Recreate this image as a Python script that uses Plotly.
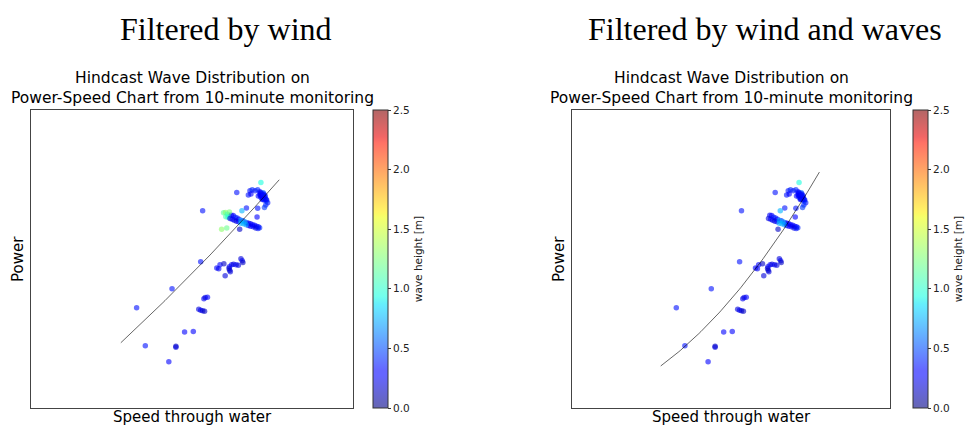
import numpy as np
import plotly.graph_objects as go

# ---- data (arbitrary normalised units; the source chart shows no tick values) ----
speed = [3.28, 3.55, 4.28, 4.50, 4.50, 4.77, 5.04, 4.38, 5.27, 5.33,
         5.21, 5.27, 5.33, 5.39, 5.37, 5.41, 5.48,
         5.77, 5.83, 5.87, 5.99, 6.03, 6.16, 6.15, 6.17, 6.19, 6.23, 6.29, 6.37, 6.44, 6.52, 6.56, 6.58,
         5.92, 6.08, 6.48, 6.69, 6.39, 7.02, 7.04,
         5.98, 6.04, 6.10, 6.16, 6.22, 6.28, 6.34, 6.40, 6.46, 6.58, 6.70, 6.76, 6.82, 6.88, 6.94, 7.00, 7.06, 7.10,
         6.05, 6.12, 6.18, 6.25, 6.31, 6.38, 6.45, 6.75, 6.82, 6.90, 6.98, 7.05, 6.16,
         6.52, 6.64, 6.60, 6.68, 6.55, 6.52,
         6.80, 6.87, 6.96, 7.04, 7.11, 7.16, 7.21, 7.27, 7.32, 7.35, 7.29, 7.25, 6.75, 6.83, 7.06, 7.14, 7.18, 7.11, 7.21,
         7.15, 7.20, 7.24, 7.13, 7.19, 7.26, 7.30,
         7.17, 7.22, 7.19, 7.24, 7.12, 7.27, 7.23, 7.30,
         7.14]
power = [3.36, 2.09, 1.55, 2.07, 2.04, 2.55, 2.57, 4.00, 4.91, 6.62,
         3.31, 3.28, 3.26, 3.25, 3.67, 3.71, 3.72,
         4.70, 4.67, 4.81, 4.84, 4.44, 4.74, 4.68, 4.62, 4.57, 4.81, 4.82, 4.81, 4.79, 5.01, 4.94, 4.88,
         6.00, 6.04, 6.00, 6.71, 7.23, 6.41, 6.70,
         6.55, 6.56, 6.50, 6.48, 6.47, 6.46, 6.40, 6.38, 6.33, 6.28, 6.22, 6.20, 6.18, 6.15, 6.13, 6.10, 6.08, 6.05,
         6.42, 6.40, 6.36, 6.33, 6.30, 6.27, 6.25, 6.12, 6.10, 6.08, 6.04, 6.02, 6.58,
         6.30, 6.25, 6.18, 6.15, 6.62, 6.20,
         7.29, 7.32, 7.29, 7.32, 7.26, 7.20, 7.15, 7.07, 6.98, 6.89, 6.81, 6.73, 7.15, 7.18, 7.11, 7.07, 7.00, 7.18, 7.22,
         7.12, 7.16, 7.10, 7.22, 7.05, 7.02, 6.95,
         7.12, 7.08, 7.02, 6.98, 7.14, 7.12, 7.18, 7.00,
         7.57]
wave_height = [0.35, 0.35, 0.30, 0.15, 0.20, 0.30, 0.30, 0.35, 0.35, 0.35,
               0.20, 0.25, 0.20, 0.15, 0.25, 0.20, 0.30,
               0.30, 0.25, 0.30, 0.15, 0.20, 0.25, 0.20, 0.15, 0.20, 0.30, 0.20, 0.25, 0.20, 0.20, 0.25, 0.15,
               1.30, 1.20, 0.15, 0.35, 0.35, 0.30, 0.35,
               1.15, 1.30, 1.05, 1.10, 0.25, 0.30, 0.35, 0.40, 0.30, 0.30, 0.30, 0.30, 0.25, 0.30, 0.30, 0.25, 0.30, 0.40,
               1.10, 1.00, 0.20, 0.30, 0.25, 0.20, 0.30, 0.30, 0.25, 0.30, 0.20, 0.35, 1.25,
               0.70, 0.70, 0.75, 0.70, 0.75, 0.75,
               0.35, 0.40, 0.35, 0.40, 0.30, 0.35, 0.40, 0.45, 0.40, 0.35, 0.40, 0.45, 0.35, 0.30, 0.30, 0.35, 0.30, 0.35, 0.55,
               0.30, 0.35, 0.55, 0.30, 0.40, 0.50, 0.45,
               0.30, 0.25, 0.30, 0.35, 0.30, 0.30, 0.35, 0.30,
               0.95]
wave_limit = 1.0  # second panel keeps only wave heights below this

# fitted power-speed curves: power = c0 + c1*(v - v0) + c2*(v - v0)^2
fit_v0 = 2.79
fit_wind = [2.19, 1.00, 0.0227]
fit_wind_span = [2.79, 7.71]
fit_waves = [1.41, 0.78, 0.105]
fit_waves_span = [2.79, 7.78]

panel_titles = ["Filtered by wind", "Filtered by wind and waves"]
subtitle = "Hindcast Wave Distribution on<br>Power-Speed Chart from 10-minute monitoring"
cbar_ticks = [0.0, 0.5, 1.0, 1.5, 2.0, 2.5]

# ---- jet colormap with alpha ----
def jet(t):
    r = np.interp(t, [0, 0.35, 0.66, 0.89, 1], [0, 0, 1, 1, 0.5])
    g = np.interp(t, [0, 0.125, 0.375, 0.64, 0.91, 1], [0, 0, 1, 1, 0, 0])
    b = np.interp(t, [0, 0.11, 0.34, 0.65, 1], [0.5, 1, 1, 0, 0])
    return r, g, b

stops = sorted(set([0, 0.11, 0.125, 0.34, 0.35, 0.375, 0.64, 0.65, 0.66, 0.89, 0.91, 1.0]))
jet_alpha = []
for s in stops:
    r, g, b = jet(s)
    jet_alpha.append([s, f"rgba({int(round(r*255))},{int(round(g*255))},{int(round(b*255))},0.6)"])

W, H = 968, 426
def px(x):
    return x / W
def py(y):
    return (H - y) / H

sp = np.array(speed)
pw = np.array(power)
hs = np.array(wave_height)
mask = hs < wave_limit

panels = [
    dict(x=sp, y=pw, c=hs, fit=fit_wind, span=fit_wind_span,
         box=(31, 353), cbx=373, title_x=226, sub_x=192, power_x=18),
    dict(x=sp[mask], y=pw[mask], c=hs[mask], fit=fit_waves, span=fit_waves_span,
         box=(572, 890), cbx=913, title_x=765, sub_x=731.5, power_x=559),
]

box_top, box_bot = 110, 408

fig = go.Figure()
annotations = []
for i, p in enumerate(panels):
    xa = "x" if i == 0 else "x2"
    ya = "y" if i == 0 else "y2"
    fig.add_trace(go.Scatter(
        x=p["x"], y=p["y"], mode="markers", xaxis=xa, yaxis=ya, showlegend=False,
        marker=dict(size=5.5, color=p["c"], cmin=0, cmax=2.5, colorscale=jet_alpha,
                    line=dict(width=0),
                    colorbar=dict(x=px(p["cbx"]), xanchor="left", xpad=0,
                                  y=py(box_bot), yanchor="bottom", ypad=0,
                                  len=box_bot - box_top, lenmode="pixels",
                                  thickness=15, outlinewidth=1, outlinecolor="#333",
                                  tickvals=cbar_ticks, tickformat=".1f",
                                  ticks="outside", ticklen=3, tickcolor="#333",
                                  tickfont=dict(family="DejaVu Sans", size=10.5, color="#222"),
                                  title=dict(text="wave height [m]", side="right",
                                             font=dict(family="DejaVu Sans", size=10.5, color="#222"))),
                    ),
    ))
    v = np.linspace(p["span"][0], p["span"][1], 80)
    c0, c1, c2 = p["fit"]
    curve = c0 + c1 * (v - fit_v0) + c2 * (v - fit_v0) ** 2
    fig.add_trace(go.Scatter(x=v, y=curve, mode="lines", xaxis=xa, yaxis=ya, showlegend=False,
                             line=dict(color="rgba(0,0,0,0.6)", width=1)))
    box_center_x = (p["box"][0] + p["box"][1]) / 2
    annotations += [
        dict(text=panel_titles[i], x=px(p["title_x"]), y=py(29), xref="paper", yref="paper",
             showarrow=False, xanchor="center", yanchor="middle",
             font=dict(family="Liberation Serif", size=32, color="black")),
        dict(text=subtitle, x=px(p["sub_x"]), y=py(88), xref="paper", yref="paper",
             showarrow=False, xanchor="center", yanchor="middle",
             font=dict(family="DejaVu Sans", size=15.5, color="black")),
        dict(text="Power", x=px(p["power_x"]), y=py((box_top + box_bot) / 2), xref="paper", yref="paper",
             showarrow=False, xanchor="center", yanchor="middle", textangle=-90,
             font=dict(family="DejaVu Sans", size=15, color="black")),
        dict(text="Speed through water", x=px(box_center_x), y=py(416.5), xref="paper", yref="paper",
             showarrow=False, xanchor="center", yanchor="middle",
             font=dict(family="DejaVu Sans", size=15, color="black")),
    ]

axis_common = dict(range=[0, 10], showgrid=False, zeroline=False, showticklabels=False,
                   ticks="", showline=True, mirror=True, linecolor="#444", linewidth=1)
fig.update_layout(
    width=W, height=H, margin=dict(l=0, r=0, t=0, b=0),
    paper_bgcolor="white", plot_bgcolor="white",
    xaxis=dict(domain=[px(31), px(353)], anchor="y", **axis_common),
    yaxis=dict(domain=[py(box_bot), py(box_top)], anchor="x", **axis_common),
    xaxis2=dict(domain=[px(572), px(890)], anchor="y2", **axis_common),
    yaxis2=dict(domain=[py(box_bot), py(box_top)], anchor="x2", **axis_common),
    annotations=annotations,
)

fig.write_html("out.html")
